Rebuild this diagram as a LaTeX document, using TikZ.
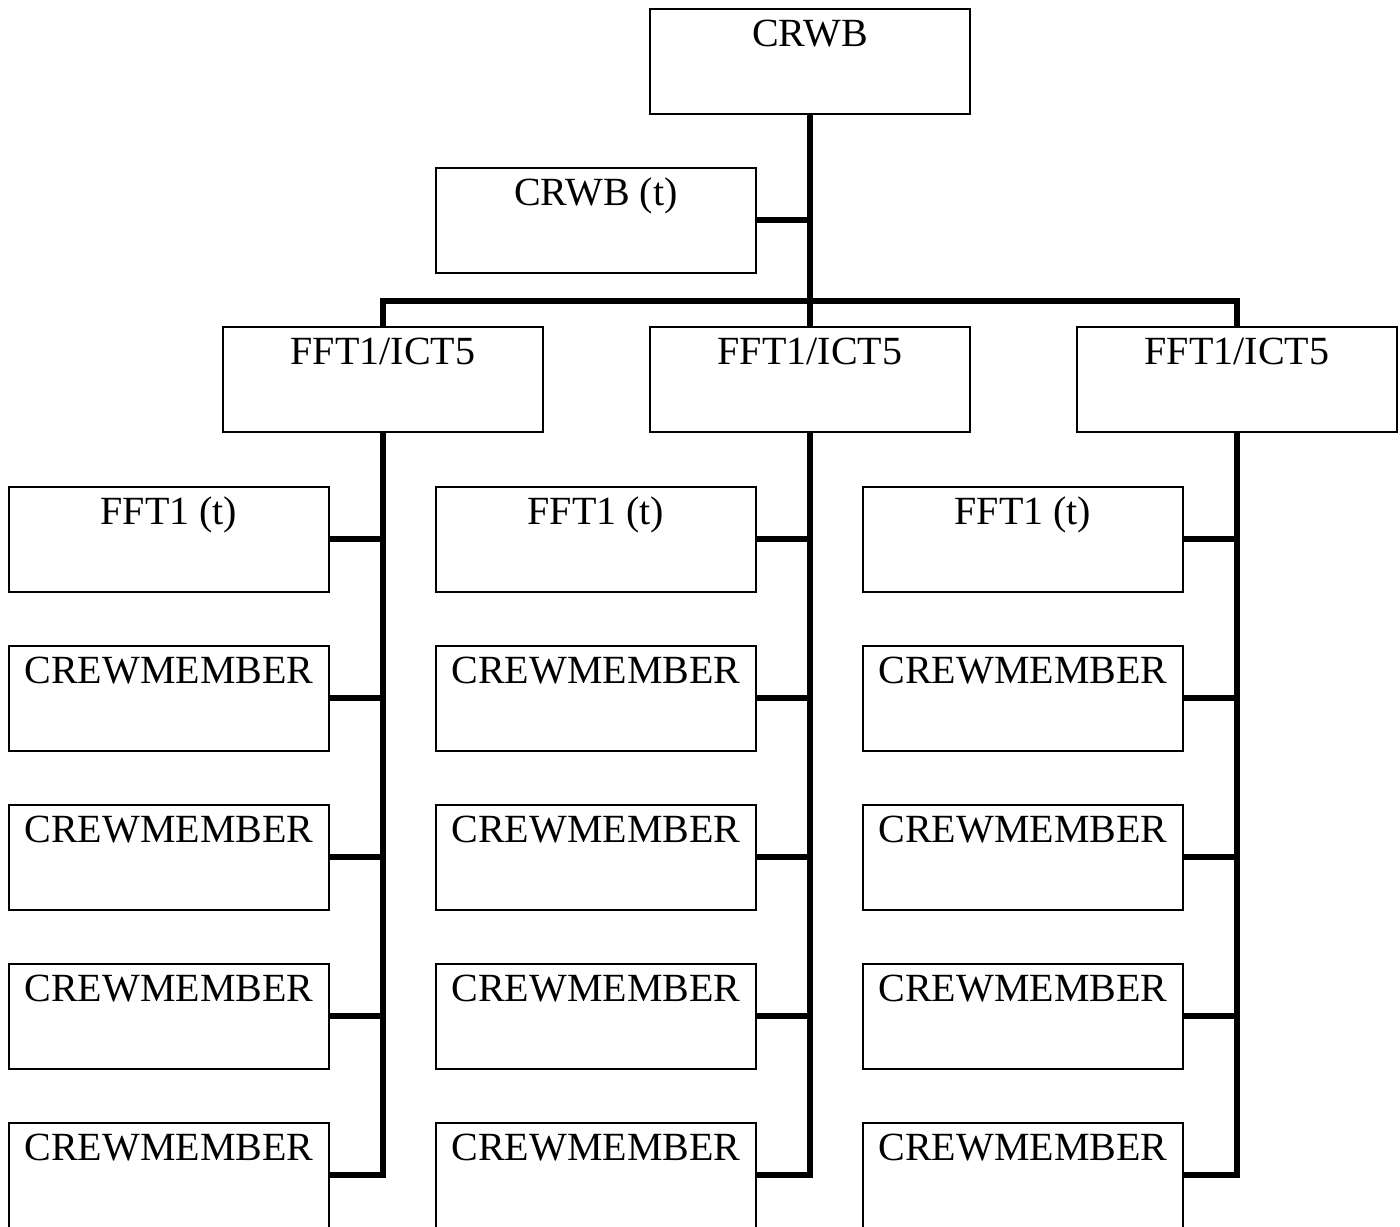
\documentclass[tikz,border=0pt]{standalone}
\usepackage{fontspec}
\setmainfont{Liberation Serif}
\begin{document}
\begin{tikzpicture}[x=0.5pt,y=-0.5pt,
  box/.style={draw, line width=0.9pt, minimum width=160pt, minimum height=52.5pt,
    inner sep=0pt, anchor=north west,
    label={[anchor=base, yshift=-19pt, inner sep=0pt, font=\fontsize{20}{24}\selectfont]north:#1}},
  conn/.style={line width=3pt, line join=miter}]
\useasboundingbox (0,0) rectangle (1400,1226);
% top
\node[box=CRWB] (crwb) at (649,8) {};
\node[box=CRWB (t)] (crwbt) at (435,167) {};
% managers
\node[box=FFT1/ICT5] (ict1) at (222,326) {};
\node[box=FFT1/ICT5] (ict2) at (649,326) {};
\node[box=FFT1/ICT5] (ict3) at (1076,326) {};
% columns
\foreach \c/\x in {1/8,2/435,3/862}{
  \node[box=FFT1 (t)] (m\c1) at (\x,486) {};
  \node[box=CREWMEMBER] (m\c2) at (\x,645) {};
  \node[box=CREWMEMBER] (m\c3) at (\x,804) {};
  \node[box=CREWMEMBER] (m\c4) at (\x,963) {};
  \node[box=CREWMEMBER] (m\c5) at (\x,1122) {};
}
% connectors
\coordinate (bar) at (crwb.south |- 0,301);
\draw[conn] (crwb.south) -- (ict2.north);
\draw[conn] (crwbt.east) -- (crwbt.east -| crwb.south);
\draw[conn] (ict1.north) |- (bar) -| (ict3.north);
\foreach \c in {1,2,3}{
  \draw[conn] (ict\c.south) |- (m\c5.east);
  \foreach \k in {1,2,3,4}{
    \draw[conn] (m\c\k.east) -- (m\c\k.east -| ict\c.south);
  }
}
\end{tikzpicture}
\end{document}
